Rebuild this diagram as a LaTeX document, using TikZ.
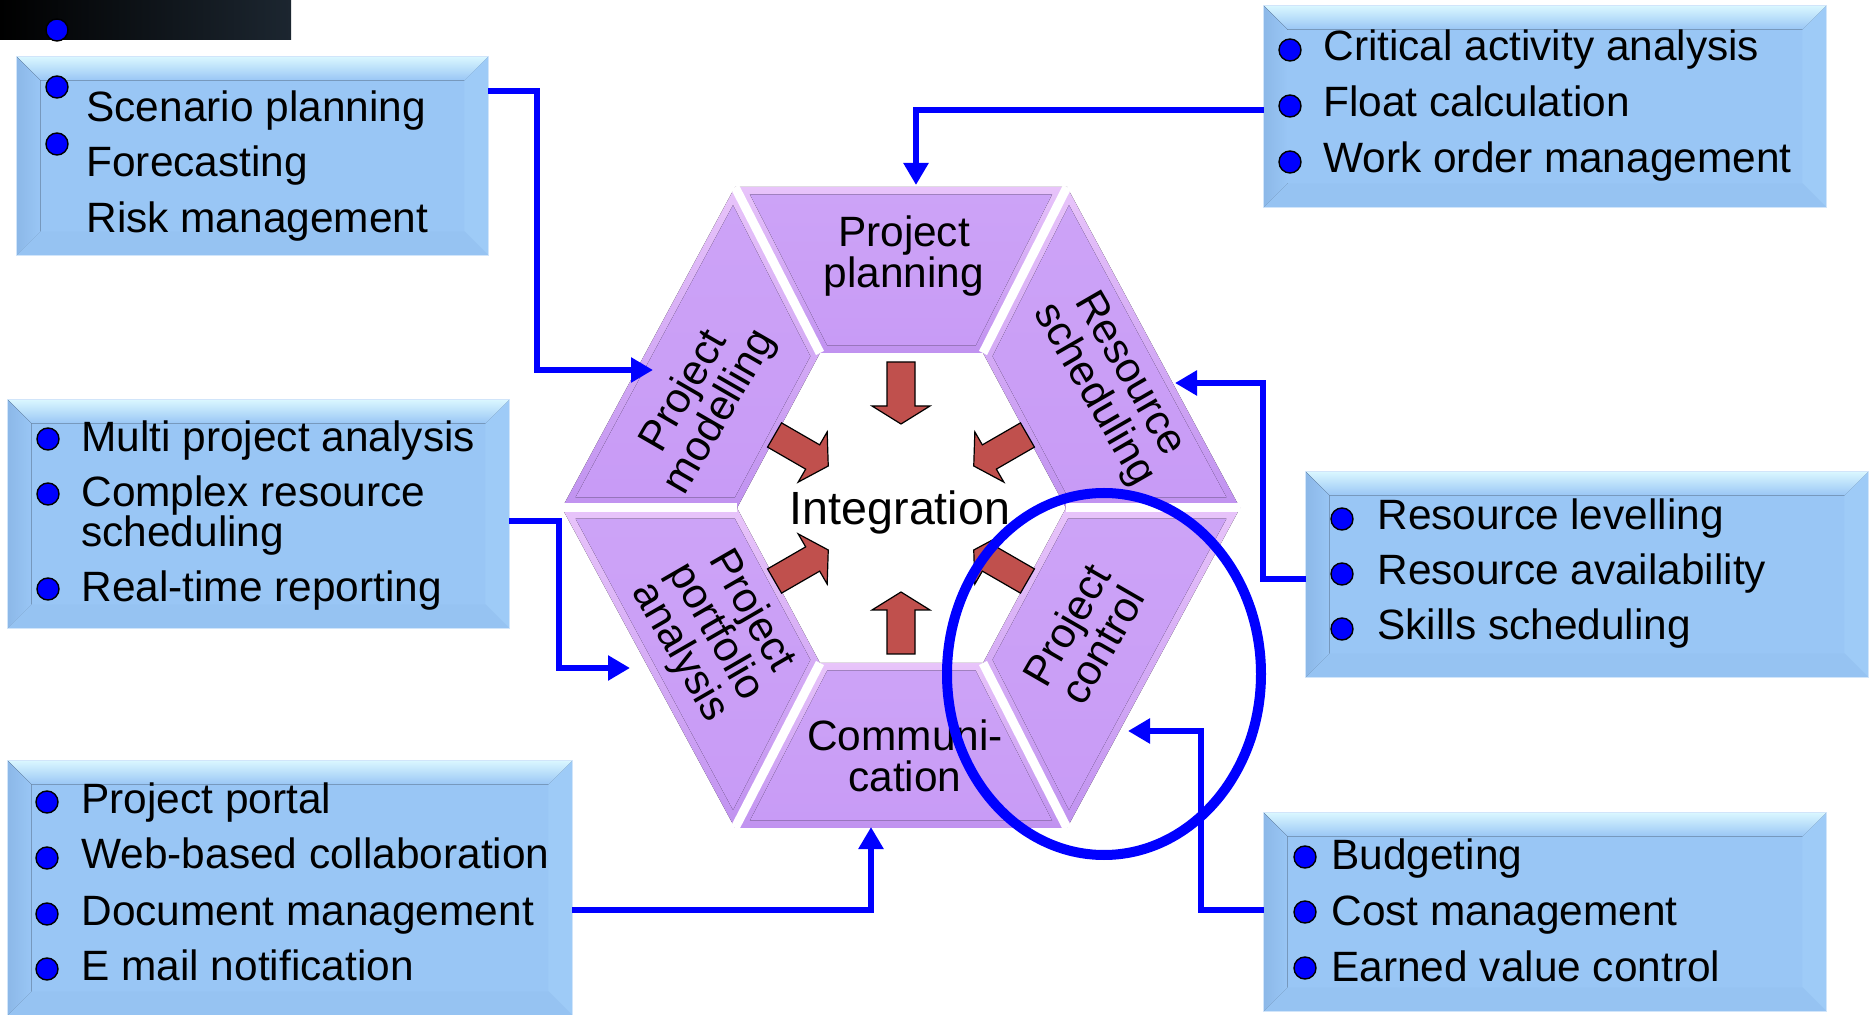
\documentclass[tikz,border=0pt]{standalone}
\usepackage{fontspec}
\setmainfont{Liberation Sans}
\usetikzlibrary{arrows.meta,fit,calc,shapes.geometric}
\definecolor{boxbody}{RGB}{153,198,245}
\definecolor{boxtop}{RGB}{218,247,255}
\definecolor{boxleft}{RGB}{140,184,232}
\definecolor{boxright}{RGB}{158,203,247}
\definecolor{boxbot}{RGB}{150,195,242}
\definecolor{seglight}{RGB}{232,196,250}
\definecolor{segbody}{RGB}{200,155,246}
\definecolor{segedge}{RGB}{192,146,240}
\definecolor{redarrow}{RGB}{192,80,77}
\definecolor{bulletblue}{RGB}{0,0,255}
\definecolor{connblue}{RGB}{0,0,255}
\definecolor{darkslate}{RGB}{28,38,48}

% bevelled box: name, x1, y1, x2, y2 (pixel units, y downwards)
\newcommand{\bevbox}[5]{%
  \node[fit={(#2,#3)(#4,#5)}, inner sep=0pt, fill=boxbody] (#1) {};
  \fill[top color=boxtop, bottom color=boxbody]
    (#1.north west) -- (#1.north east) -- ($(#1.north east)+(-24,24)$) -- ($(#1.north west)+(24,24)$) -- cycle;
  \fill[left color=boxleft, right color=boxbody]
    (#1.north west) -- ($(#1.north west)+(24,24)$) -- ($(#1.south west)+(24,-24)$) -- (#1.south west) -- cycle;
  \fill[boxright]
    (#1.north east) -- ($(#1.north east)+(-24,24)$) -- ($(#1.south east)+(-24,-24)$) -- (#1.south east) -- cycle;
  \fill[boxbot]
    (#1.south west) -- ($(#1.south west)+(24,-24)$) -- ($(#1.south east)+(-24,-24)$) -- (#1.south east) -- cycle;
  \draw[white!55!boxbody, line width=0.6pt] (#1.north west) rectangle (#1.south east);
}
% red block arrow pointing to the centre, placed at angle #1
\newcommand{\redblock}[1]{%
  \begin{scope}[shift={(901,508)}, rotate=#1]
    \path[redarr] (146,-14) -- (102,-14) -- (102,-29) -- (84,0) -- (102,29) -- (102,14) -- (146,14) -- cycle;
  \end{scope}}
% hexagon segment: four corners and the centre used for the inset
\newcommand{\hexseg}[5]{%
  \fill[top color=seglight, bottom color=segedge] (#1) -- (#2) -- (#3) -- (#4) -- cycle;
  \fill[top color=segbody!92!white, bottom color=segbody] ($(#1)!0.09!(#5)$) -- ($(#2)!0.09!(#5)$) -- ($(#3)!0.09!(#5)$) -- ($(#4)!0.09!(#5)$) -- cycle;
}

\begin{document}
\begin{tikzpicture}[x=0.5pt, y=-0.5pt,
  txt/.style={anchor=base west, inner sep=0pt, font=\fontsize{21.2}{25}\selectfont},
  bul/.style={circle, fill=bulletblue, draw=black, line width=0.7pt, minimum size=11pt, inner sep=0pt},
  seglabel/.style={align=center, inner sep=0pt, font=\fontsize{21.2}{20.5}\selectfont},
  conn/.style={draw=connblue, line width=3pt, -{Triangle[length=11pt,width=12pt]}},
  redarr/.style={fill=redarrow, draw=black, line width=0.6pt},
  seam/.style={draw=white, line width=4.5pt}
]
\useasboundingbox (0,0) rectangle (1870,1015);

% dark corner of the slide title
\fill[left color=black, right color=darkslate] (0,0) rectangle (291,40);
\node[bul] (tb) at (57,30) {};

% ---------- hexagon ----------
\coordinate (O1) at (735,187);  \coordinate (O2) at (1067,187);
\coordinate (O3) at (1240,508); \coordinate (O4) at (1067,828);
\coordinate (O5) at (735,828);  \coordinate (O6) at (562,508);
\coordinate (I1) at (820,353);  \coordinate (I2) at (983,353);
\coordinate (I3) at (1066,508); \coordinate (I4) at (983,663);
\coordinate (I5) at (820,663);  \coordinate (I6) at (737,508);
\coordinate (Ct) at (901,270);  \coordinate (Cur) at (1089,389);
\coordinate (Clr) at (1089,627); \coordinate (Cb) at (901,746);
\coordinate (Cll) at (713,627); \coordinate (Cul) at (713,389);

\hexseg{O1}{O2}{I2}{I1}{Ct}
\hexseg{O2}{O3}{I3}{I2}{Cur}
\hexseg{O3}{O4}{I4}{I3}{Clr}
\hexseg{O4}{O5}{I5}{I4}{Cb}
\hexseg{O5}{O6}{I6}{I5}{Cll}
\hexseg{O6}{O1}{I1}{I6}{Cul}
\foreach \k in {1,...,6} { \draw[seam] (O\k) -- (I\k); }

% red arrows
\redblock{90}
\redblock{270}
\redblock{150}
\redblock{30}
\redblock{210}
\redblock{330}

% labels
\node[seglabel] (plan) at (904,256) {Project\\planning};
\node[seglabel] (comm) at (905,756) {Communi-\\cation};
\node[seglabel, rotate=60] (model) at (703,402) {Project\\modelling};
\node[seglabel, rotate=-60] (resch) at (1111,385) {Resource\\scheduling};
\node[seglabel, rotate=-60] (portf) at (715,632) {Project\\portfolio\\analysis};
\node[seglabel, rotate=60] (ctrl) at (1084,635) {Project\\control};
\node[anchor=base, inner sep=0pt, font=\fontsize{23.3}{28}\selectfont] (integ) at (900,525) {Integration};

% ---------- boxes ----------
\bevbox{b1}{17}{57}{488}{255}
\node[bul] (b1d1) at (57,87) {};
\node[bul] (b1d2) at (57,144) {};
\node[txt] (b1t1) at (86,122) {Scenario planning};
\node[txt] (b1t2) at (86,177) {Forecasting};
\node[txt] (b1t3) at (86,233) {Risk management};

\bevbox{b2}{1264}{6}{1826}{207}
\node[bul] (b2d1) at (1290,50) {};
\node[bul] (b2d2) at (1290,106) {};
\node[bul] (b2d3) at (1290,162) {};
\node[txt] (b2t1) at (1323,61) {Critical activity analysis};
\node[txt] (b2t2) at (1323,117) {Float calculation};
\node[txt] (b2t3) at (1323,173) {Work order management};

\bevbox{b3}{8}{400}{509}{628}
\node[bul] (b3d1) at (48,439) {};
\node[bul] (b3d2) at (48,494) {};
\node[bul] (b3d3) at (48,589) {};
\node[txt] (b3t1) at (81,452) {Multi project analysis};
\node[txt] (b3t2) at (81,507) {Complex resource};
\node[txt] (b3t3) at (81,547) {scheduling};
\node[txt] (b3t4) at (81,602) {Real-time reporting};

\bevbox{b4}{1306}{472}{1868}{677}
\node[bul] (b4d1) at (1342,519) {};
\node[bul] (b4d2) at (1342,574) {};
\node[bul] (b4d3) at (1342,629) {};
\node[txt] (b4t1) at (1377,530) {Resource levelling};
\node[txt] (b4t2) at (1377,585) {Resource availability};
\node[txt] (b4t3) at (1377,640) {Skills scheduling};

\bevbox{b5}{8}{761}{572}{1015}
\node[bul] (b5d1) at (47,802) {};
\node[bul] (b5d2) at (47,858) {};
\node[bul] (b5d3) at (47,914) {};
\node[bul] (b5d4) at (47,969) {};
\node[txt] (b5t1) at (81,813) {Project portal};
\node[txt] (b5t2) at (81,869) {Web-based collaboration};
\node[txt] (b5t3) at (81,925) {Document management};
\node[txt] (b5t4) at (81,980) {E mail notification};

\bevbox{b6}{1264}{813}{1826}{1011}
\node[bul] (b6d1) at (1305,857) {};
\node[bul] (b6d2) at (1305,912) {};
\node[bul] (b6d3) at (1305,968) {};
\node[txt] (b6t1) at (1331,870) {Budgeting};
\node[txt] (b6t2) at (1331,925) {Cost management};
\node[txt] (b6t3) at (1331,981) {Earned value control};

% ---------- connectors ----------
\coordinate (model-in) at (653,370);
\coordinate (plan-in) at (916,185);
\coordinate (resch-in) at (1175,383);
\coordinate (portf-in) at (630,668);
\coordinate (comm-in) at (871,827);
\coordinate (ctrl-in) at (1128,731);

\draw[conn] ([yshift=-17pt]b1.north east) -- ++(49,0) |- (model-in);
\draw[conn] ([yshift=-52pt]b2.north west) -| (plan-in);
\draw[conn] ([yshift=-53.5pt]b4.north west) -- ++(-43,0) |- (resch-in);
\draw[conn] ([yshift=-60.5pt]b3.north east) -- ++(50,0) |- (portf-in);
\draw[conn] ([yshift=-74.5pt]b5.north east) -| (comm-in);
\draw[conn] ([yshift=-48.5pt]b6.north west) -- ++(-63,0) |- (ctrl-in);

% highlight ring
\node[ellipse, draw=connblue, line width=5pt, minimum width=157pt, minimum height=181pt, inner sep=0pt] (ring) at (1104,674) {};
\end{tikzpicture}
\end{document}
